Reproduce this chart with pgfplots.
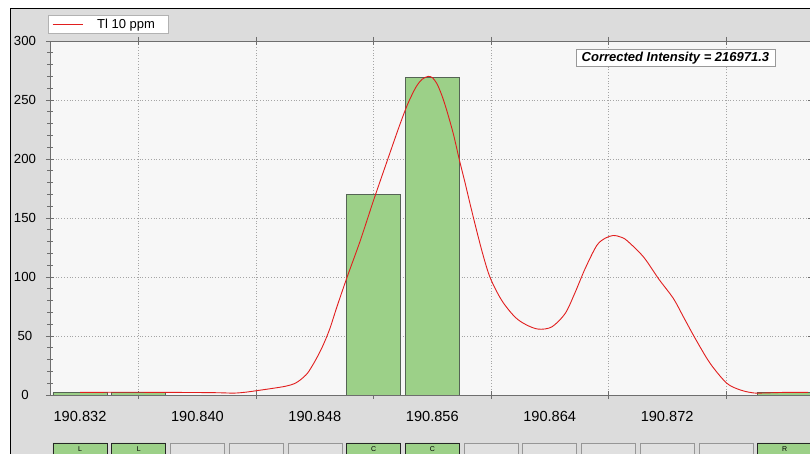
\documentclass[border=0pt]{standalone}
\usepackage{fontspec}
\setmainfont{Liberation Sans}
\usepackage{pgfplots}
\pgfplotsset{compat=1.18}
\definecolor{bgouter}{RGB}{220,220,220}
\definecolor{bgplot}{RGB}{247,247,247}
\definecolor{bargreen}{RGB}{156,208,136}
\definecolor{baredge}{RGB}{85,100,85}
\definecolor{curvered}{RGB}{225,30,30}
\definecolor{gridgray}{RGB}{165,165,165}
\definecolor{boxgray}{RGB}{224,224,224}
\definecolor{boxedge}{RGB}{150,150,150}
\definecolor{axisgray}{RGB}{110,110,110}
\begin{document}
\begin{tikzpicture}[x=1pt,y=1pt]
\path[use as bounding box, fill=white] (0pt,0pt) rectangle (810pt,454pt);
\fill[bgouter] (10pt,0pt) rectangle (812pt,445pt);
\draw[black, line width=1pt] (10pt,-2pt) -- (10pt,445pt) -- (812pt,445pt);
\begin{axis}[
  at={(50pt,59pt)}, anchor=south west, scale only axis,
  width=762pt, height=354pt,
  xmin=29.956, xmax=81.87, ymin=0, ymax=300,
  axis background/.style={fill=bgplot},
  axis line style={draw=axisgray, line width=0.8pt},
  tick style={draw=axisgray, line width=0.7pt},
  tick align=center,
  major tick length=8pt, minor tick length=5pt,
  ytick={0,50,...,300}, minor y tick num=4,
  xtick={36,44,...,76}, xticklabels={},
  extra x ticks={32,40,48,56,64,72},
  extra x tick labels={190.832,190.840,190.848,190.856,190.864,190.872},
  extra x tick style={grid=none, major tick length=0pt},
  xminorticks=false,
  ymajorgrids, xmajorgrids,
  major grid style={draw=gridgray, line width=0.6pt, dash pattern=on 0.8pt off 2pt},
  /pgf/number format/assume math mode=true,
  ticklabel style={text=black},
  yticklabel style={anchor=center, xshift=-21pt, font=\fontsize{13.2}{15}\selectfont},
  xticklabel style={yshift=-13pt, font=\fontsize{14.6}{17}\selectfont},
  legend style={at={(-0.0026,1.0734)}, anchor=north west, draw=gray!60, fill=white,
    font=\fontsize{13}{15}\selectfont, inner xsep=4pt, inner ysep=1.5pt},
  legend image code/.code={\draw[curvered, line width=0.9pt] (0pt,0pt) -- (30pt,0pt); \path (42pt,0pt);},
  legend cell align=left,
]
\addplot[ybar, bar width=3.68, bar shift=0pt, fill=bargreen, draw=baredge, line width=0.7pt, forget plot]
  coordinates {(32,2) (36,2) (52,170) (56,269) (80,2.5)};
\addplot[curvered, line width=0.9pt, smooth, tension=0.5] coordinates {
(32.0,2.2) (34.0,2.3) (36.0,2.3) (38.0,2.2) (40.0,2.1) (41.5,1.9) (42.5,1.6) (43.3,2.4)
(44.0,3.6) (45.0,5.4) (46.0,7.4) (46.6,9.6) (47.0,12.7) (47.5,18.5) (48.0,28.5)
(48.5,40.5) (49.0,55.5) (49.5,74.6) (50.2,100) (51.1,131) (52.0,165) (53.0,201)
(53.7,226) (54.24,244) (54.6,254) (54.94,262) (55.3,267.5) (55.71,270) (56.0,269)
(56.31,264) (56.65,254) (56.99,241) (57.44,221) (57.85,199) (58.23,180) (58.69,156)
(59.37,122.6) (59.94,99.5) (60.74,80) (61.64,66) (62.4,59.5) (63.23,55.8) (64.14,57.7)
(65.05,69) (65.7,86) (66.41,107) (67.21,126.8) (67.8,133) (68.34,135.2) (68.8,134)
(69.25,131) (70.39,117) (71.41,98.6) (72.43,81.7) (73.11,66.2) (73.91,48) (74.93,26.8)
(76.07,9.9) (77.0,4.2) (77.66,2.2) (78.2,1.6) (80.0,2.2) (81.6,2.2)
};
\addlegendentry{Tl 10 ppm\rule{7pt}{0pt}}
\node[draw=gray!80, fill=white, font=\bfseries\itshape\fontsize{13}{15}\selectfont,
  inner xsep=6pt, inner ysep=2.5pt] at (rel axis cs:0.8208,0.952) {Corrected Intensity = 216971.3};
\end{axis}
\begin{axis}[
  at={(50pt,-6pt)}, anchor=south west, scale only axis,
  width=762pt, height=17pt,
  xmin=29.956, xmax=81.87, ymin=0, ymax=1,
  hide axis, clip=false,
]
\addplot[ybar, bar width=3.68, bar shift=0pt, fill=bargreen, draw=gray!30!black, line width=0.6pt,
  nodes near coords, point meta=explicit symbolic,
  every node near coord/.style={anchor=north, font=\fontsize{7}{8}\selectfont, text=black}]
  coordinates {(32,1)[L] (36,1)[L] (52,1)[C] (56,1)[C] (80,1)[R]};
\addplot[ybar, bar width=3.68, bar shift=0pt, fill=boxgray, draw=boxedge, line width=0.6pt]
  coordinates {(40,1) (44,1) (48,1) (60,1) (64,1) (68,1) (72,1) (76,1)};
\end{axis}
\end{tikzpicture}
\end{document}
